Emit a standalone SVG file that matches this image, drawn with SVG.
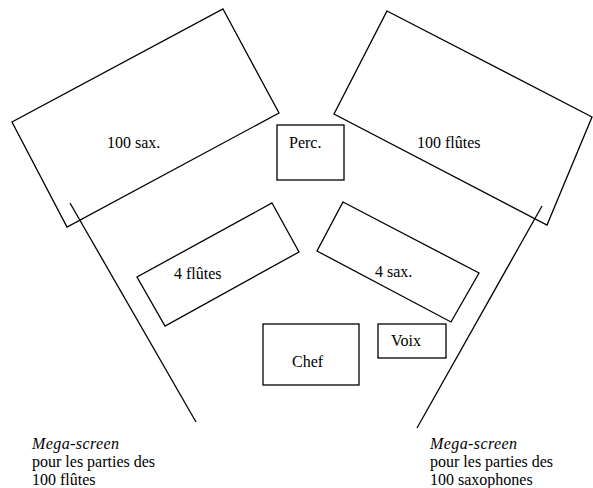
<svg xmlns="http://www.w3.org/2000/svg" width="593" height="488" viewBox="0 0 593 488">
<style>
.s{fill:none;stroke:#000;stroke-width:1.3}
text{font-family:'Liberation Serif','Times New Roman',serif;font-size:16px;fill:#000}
.i{font-style:italic}
</style>
<rect width="593" height="488" fill="#fff"/>
<g id="sax100"><polygon class="s" points="223,9 279,113 67,227 12,122"/><text x="107" y="148">100 sax.</text></g>
<g id="flutes100"><polygon class="s" points="387,11 592,117 547,225 334,114"/><text x="417" y="148">100 flûtes</text></g>
<g id="perc"><rect class="s" x="277" y="125" width="67" height="55"/><text x="289" y="148">Perc.</text></g>
<g id="flutes4"><polygon class="s" points="272,203 299,252 165,326 137,277"/><text x="174" y="279">4 flûtes</text></g>
<g id="sax4"><polygon class="s" points="343,202 479,273 451,322 317,251"/><text x="375" y="277">4 sax.</text></g>
<g id="chef"><rect class="s" x="263" y="324" width="96" height="61"/><text x="292" y="367">Chef</text></g>
<g id="voix"><rect class="s" x="378" y="324" width="68" height="34"/><text x="391" y="346">Voix</text></g>
<g id="connectors">
<line class="s" x1="70" y1="203" x2="196" y2="422"/>
<line class="s" x1="542" y1="206" x2="417" y2="428"/>
</g>
<g id="screenLeft"><text x="32" y="449" class="i" letter-spacing="0.4">Mega-screen</text><text x="32" y="467">pour les parties des</text><text x="32" y="485">100 flûtes</text></g>
<g id="screenRight"><text x="430" y="449" class="i" letter-spacing="0.4">Mega-screen</text><text x="430" y="467">pour les parties des</text><text x="430" y="485">100 saxophones</text></g>
</svg>
